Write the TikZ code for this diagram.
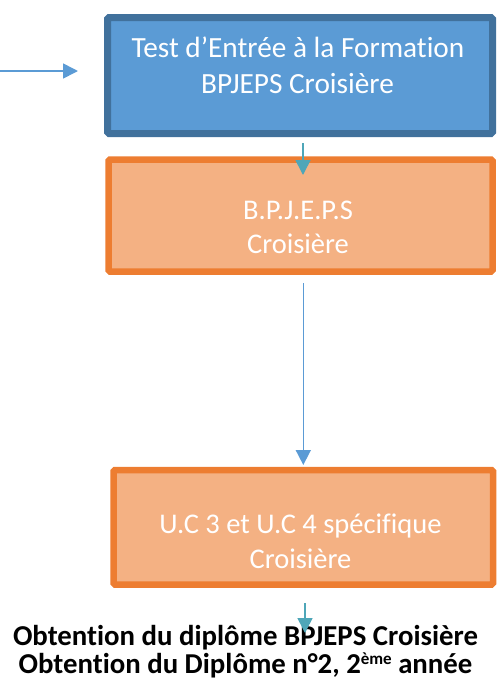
\documentclass[tikz,border=0pt]{standalone}
\usepackage{fontspec}
\setmainfont{Carlito}[Ligatures={NoCommon}]
\usetikzlibrary{arrows.meta}
\definecolor{bluefill}{HTML}{5B9BD5}
\definecolor{blueedge}{HTML}{41719C}
\definecolor{orfill}{HTML}{F4B183}
\definecolor{oredge}{HTML}{ED7D31}
\definecolor{tealarr}{HTML}{4EA6B8}
\definecolor{bluearr}{HTML}{5B9BD5}
\newcommand{\supsmall}[1]{\raisebox{8.5pt}{\fontsize{17}{17}\selectfont #1}}
\tikzset{
  x=1pt, y=-1pt,
  bluebox/.style={draw=blueedge, fill=bluefill, line width=7pt, rounded corners=1.5pt, inner sep=0pt},
  orbox/.style={draw=oredge, fill=orfill, line width=6.5pt, rounded corners=1.5pt, inner sep=0pt},
  boxtext/.style={text=white, font=\fontsize{29.3}{36}\selectfont, anchor=base, inner sep=0pt},
  bottomtext/.style={text=black, font=\bfseries\fontsize{28.8}{28}\selectfont, align=center, anchor=base, inner sep=0pt},
  arr/.style={line width=1.6pt, -{Triangle[length=15pt,width=15pt]}},
}
\begin{document}
\begin{tikzpicture}
\useasboundingbox (0,0) rectangle (496,686);
% boxes
\node[bluebox, minimum width=385pt, minimum height=116pt] (test) at (300,75.5) {};
\node[orbox, minimum width=384pt, minimum height=112pt] (bp) at (300.5,215.5) {};
\node[orbox, minimum width=379.5pt, minimum height=114.5pt] (uc) at (303.25,527.25) {};
% texts
\node[boxtext] (t1) at (298,57) {Test d’Entrée à la Formation};
\node[boxtext] (t2) at (297.5,93) {BPJEPS Croisière};
\node[boxtext, font=\fontsize{28.5}{34}\selectfont] (b1) at (298,219) {B.P.J.E.P.S};
\node[boxtext, font=\fontsize{28.5}{34}\selectfont] (b2) at (298,253) {Croisière};
\node[boxtext, font=\fontsize{28.5}{34}\selectfont] (u1) at (300.5,533) {U.C 3 et U.C 4 spécifique};
\node[boxtext, font=\fontsize{28.5}{34}\selectfont] (u2) at (300.5,568) {Croisière};
\node[bottomtext] (o) at (245.5,673) {Obtention du diplôme BPJEPS Croisière\\Obtention du Diplôme n°2, 2\supsmall{ème} année};
% connector ends
\coordinate (l0) at (0,71);
\coordinate (l1) at (78,71);
\coordinate (a1s) at (303,143);
\coordinate (a1e) at (303,175);
\coordinate (a2s) at (303.3,283);
\coordinate (a2e) at (303.3,465);
\coordinate (a3s) at (305,603);
\coordinate (a3e) at (305,633);
% arrows
\draw[arr, bluearr] (l0) -- (l1);
\draw[arr, tealarr] (a1s) -- (a1e);
\draw[arr, bluearr] (a2s) -- (a2e);
\draw[arr, tealarr] (a3s) -- (a3e);
\end{tikzpicture}
\end{document}
